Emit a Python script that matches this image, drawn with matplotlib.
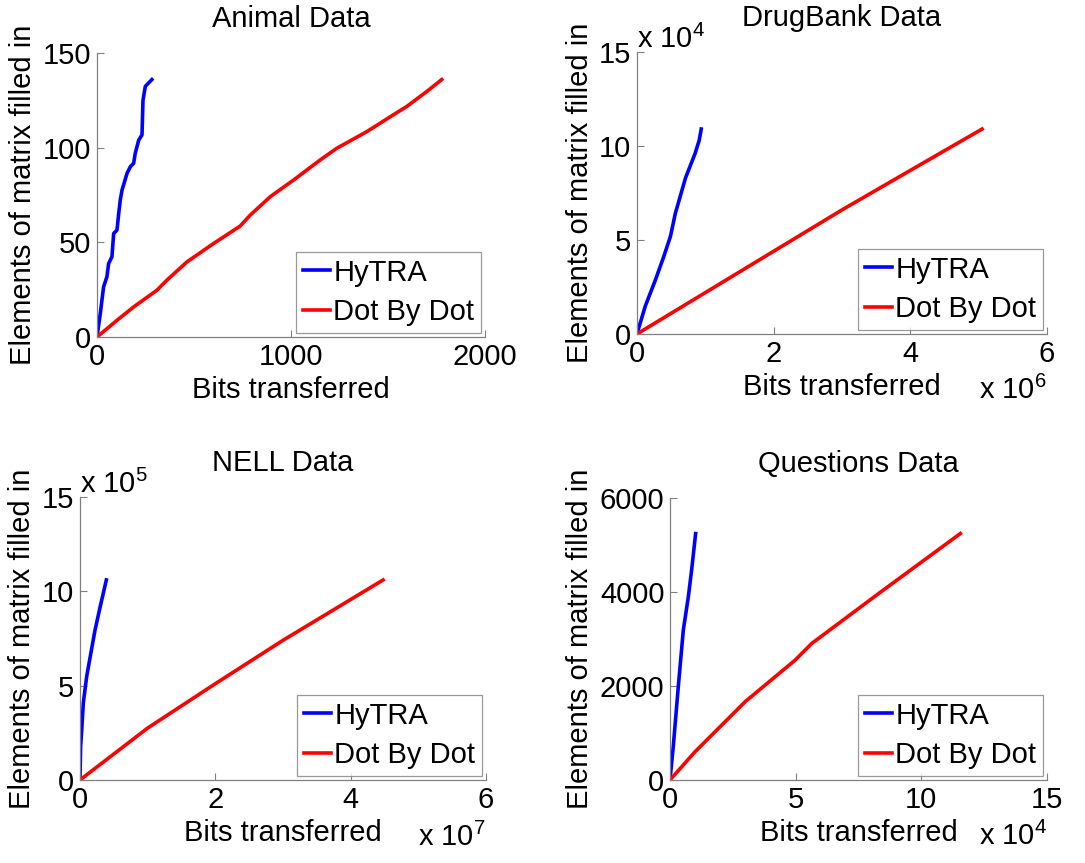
import matplotlib
matplotlib.use('Agg')
import matplotlib.pyplot as plt
from matplotlib.ticker import FuncFormatter

plt.rcParams['font.family'] = ['Liberation Sans', 'DejaVu Sans']
plt.rcParams['mathtext.fontset'] = 'custom'
plt.rcParams['mathtext.rm'] = 'Liberation Sans'
plt.rcParams['mathtext.default'] = 'regular'

# ---- data ----
titles = ['Animal Data', 'DrugBank Data', 'NELL Data', 'Questions Data']
legend_names = ['HyTRA', 'Dot By Dot']

animal_hy_x = [0, 17, 34, 51, 60, 77, 86, 103, 112, 120, 129, 155, 172, 189, 197, 215, 232, 237, 249, 283]
animal_hy_y = [0, 12.4, 26.5, 31.8, 38.8, 42.4, 54.7, 56.5, 65.3, 72.4, 77.6, 86.5, 90, 91.8, 97, 104, 106.8, 125, 132.4, 136]
animal_dot_x = [0, 103, 189, 309, 360, 464, 601, 738, 790, 893, 1013, 1150, 1236, 1391, 1528, 1597, 1700, 1777]
animal_dot_y = [0, 8.8, 15.9, 24.7, 30, 39.7, 49.4, 58.6, 64.4, 74.1, 82.9, 93.5, 99.7, 108.5, 117.4, 121.8, 129.7, 136]

drug_hy_x = [0, 0.12e6, 0.27e6, 0.39e6, 0.49e6, 0.56e6, 0.71e6, 0.85e6, 0.91e6, 0.94e6]
drug_hy_y = [0, 1.47e4, 2.88e4, 4.1e4, 5.2e4, 6.4e4, 8.3e4, 9.6e4, 10.3e4, 10.9e4]
drug_dot_x = [0, 1e6, 2e6, 3e6, 4e6, 5.05e6]
drug_dot_y = [0, 2.2e4, 4.4e4, 6.6e4, 8.7e4, 10.9e4]

nell_hy_x = [0, 0.01e7, 0.025e7, 0.05e7, 0.1e7, 0.15e7, 0.22e7, 0.3e7, 0.39e7]
nell_hy_y = [0, 1.8e5, 2.6e5, 4.1e5, 5.5e5, 6.5e5, 7.9e5, 9.2e5, 10.6e5]
nell_dot_x = [0, 1e7, 2e7, 3e7, 4.48e7]
nell_dot_y = [0, 2.75e5, 5.1e5, 7.4e5, 10.6e5]

ques_hy_x = [0, 0.13e4, 0.33e4, 0.53e4, 0.73e4, 0.86e4, 1.02e4]
ques_hy_y = [0, 708, 1983, 3188, 3896, 4463, 5242]
ques_dot_x = [0, 1e4, 2.99e4, 4.98e4, 5.64e4, 8.3e4, 11.55e4]
ques_dot_y = [0, 602, 1665, 2550, 2904, 3966, 5242]

all_hy = [(animal_hy_x, animal_hy_y), (drug_hy_x, drug_hy_y), (nell_hy_x, nell_hy_y), (ques_hy_x, ques_hy_y)]
all_dot = [(animal_dot_x, animal_dot_y), (drug_dot_x, drug_dot_y), (nell_dot_x, nell_dot_y), (ques_dot_x, ques_dot_y)]

x_limits = [2000, 6e6, 6e7, 15e4]
y_limits = [150, 15e4, 15e5, 6000]
x_exp = [0, 6, 7, 4]
y_exp = [0, 4, 5, 0]
x_ticks = [[0, 1000, 2000], [0, 2e6, 4e6, 6e6], [0, 2e7, 4e7, 6e7], [0, 5e4, 10e4, 15e4]]
y_ticks = [[0, 50, 100, 150], [0, 5e4, 10e4, 15e4], [0, 5e5, 10e5, 15e5], [0, 2000, 4000, 6000]]

# ---- layout (figure fractions) ----
rects = [[0.0894, 0.6095, 0.3576, 0.329],
         [0.5871, 0.6130, 0.3779, 0.3268],
         [0.0737, 0.0962, 0.3742, 0.328],
         [0.6175, 0.0962, 0.3475, 0.3268]]

fs = 21
fig = plt.figure(figsize=(10.85, 8.63), dpi=100)

for k in range(4):
    ax = fig.add_axes(rects[k])
    ax.plot(all_hy[k][0], all_hy[k][1], color='#0000ff', lw=2.6, label=legend_names[0])
    ax.plot(all_dot[k][0], all_dot[k][1], color='#ff0000', lw=2.6, label=legend_names[1])
    ax.set_xlim(0, x_limits[k])
    ax.set_ylim(0, y_limits[k])
    ax.set_xticks(x_ticks[k])
    ax.set_yticks(y_ticks[k])
    xs = 10 ** x_exp[k]
    ys = 10 ** y_exp[k]
    ax.xaxis.set_major_formatter(FuncFormatter(lambda v, p, s=xs: '%g' % (v / s)))
    ax.yaxis.set_major_formatter(FuncFormatter(lambda v, p, s=ys: '%g' % (v / s)))
    for sp in ['top', 'right']:
        ax.spines[sp].set_visible(False)
    for sp in ['left', 'bottom']:
        ax.spines[sp].set_color('#808080')
        ax.spines[sp].set_linewidth(0.9)
    ax.tick_params(direction='in', length=5, width=0.8, color='#808080', labelsize=fs, pad=4)
    ax.set_title(titles[k], fontsize=fs, pad=19)
    ax.set_xlabel('Bits transferred', fontsize=fs, labelpad=4)
    ax.set_ylabel('Elements of matrix filled in', fontsize=fs, labelpad=4)
    leg = ax.legend(loc='lower right', fontsize=fs, frameon=True, fancybox=False,
                    handlelength=0.95, handletextpad=0.1, borderaxespad=0.15,
                    borderpad=0.22, labelspacing=0.4)
    leg.get_frame().set_edgecolor('#808080')
    leg.get_frame().set_linewidth(0.9)
    if x_exp[k]:
        ax.text(1.0, -0.15, r'x 10$^{%d}$' % x_exp[k], transform=ax.transAxes,
                ha='right', va='top', fontsize=fs)
    if y_exp[k]:
        ax.text(0.0, 1.015, r'x 10$^{%d}$' % y_exp[k], transform=ax.transAxes,
                ha='left', va='baseline', fontsize=fs)

plt.savefig('out.png', dpi=100)
